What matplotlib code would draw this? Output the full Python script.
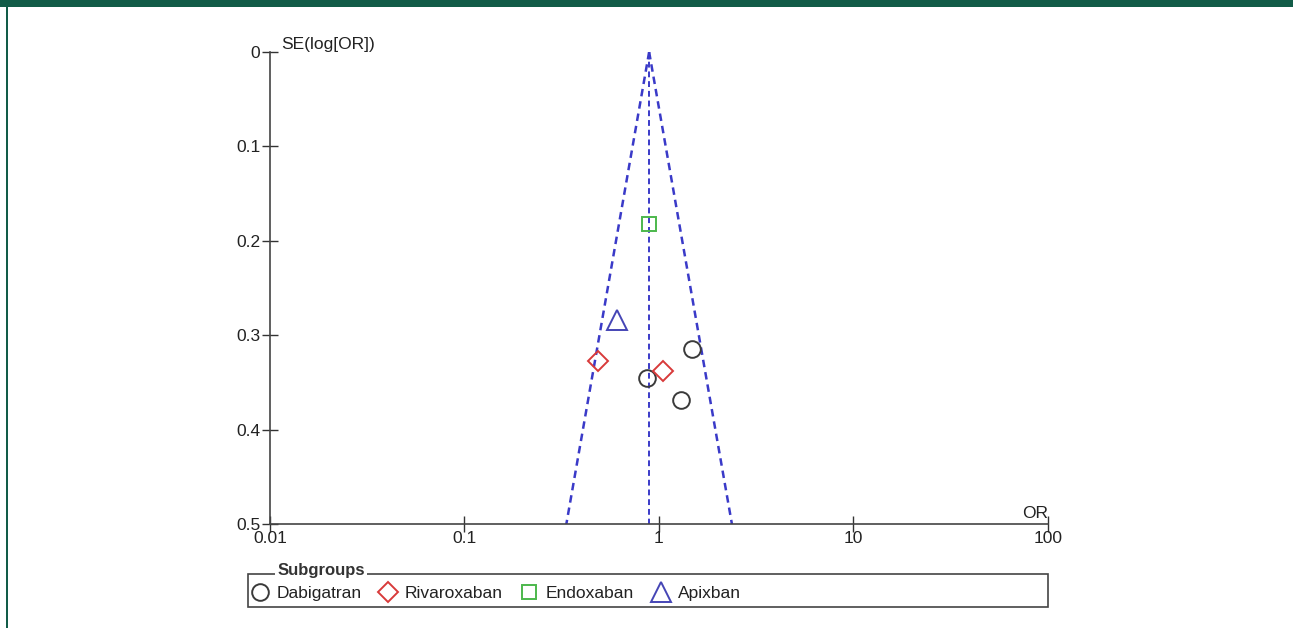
import numpy as np
import matplotlib.pyplot as plt
from matplotlib.patches import Rectangle
from matplotlib.lines import Line2D

plt.rcParams['font.family'] = ['Liberation Sans', 'DejaVu Sans']

# study estimates per subgroup: odds ratio and standard error of log(OR)
dabi_or = [0.87, 1.48, 1.30]
dabi_se = [0.345, 0.315, 0.369]
riva_or = [0.485, 1.05]
riva_se = [0.327, 0.338]
edox_or = [0.89]
edox_se = [0.182]
apix_or = [0.61]
apix_se = [0.284]

pooled_or = 0.89
se_max = 0.5

xticks = [0.01, 0.1, 1, 10, 100]
xticklabels = ['0.01', '0.1', '1', '10', '100']
yticks = [0, 0.1, 0.2, 0.3, 0.4, 0.5]
yticklabels = ['0', '0.1', '0.2', '0.3', '0.4', '0.5']

fs = 12.5

fig = plt.figure(figsize=(12.93, 6.28), dpi=100)
ax = fig.add_axes([0.2088, 0.1656, 0.6017, 0.7516])

# funnel limits
se_line = np.array([0, se_max])
funnel_col = '#3a3ac8'
dash = (0, (3, 2))
ax.plot(pooled_or * np.exp(-1.96 * se_line), se_line, color=funnel_col, lw=1.8, ls=dash)
ax.plot(pooled_or * np.exp(1.96 * se_line), se_line, color=funnel_col, lw=1.8, ls=dash)
ax.plot([pooled_or, pooled_or], se_line, color=funnel_col, lw=1.4, ls=dash)

mk = dict(ls='none', mfc='none', mew=1.4)
ax.plot(dabi_or, dabi_se, marker='o', ms=12, mec='#3a3a3a', **mk)
ax.plot(riva_or, riva_se, marker='D', ms=10.5, mec='#d83a3a', **mk)
ax.plot(edox_or, edox_se, marker='s', ms=10, mec='#4cb84c', **mk)
ax.plot(apix_or, apix_se, marker='^', ms=14, mec='#4545b5', **mk)

ax.set_xscale('log')
ax.set_xlim(0.01, 100)
ax.set_ylim(0.5, 0)
ax.set_xticks(xticks)
ax.set_xticklabels(xticklabels)
ax.set_yticks(yticks)
ax.set_yticklabels(yticklabels)
ax.xaxis.set_minor_locator(plt.NullLocator())
ax.tick_params(direction='inout', length=12, width=1, colors='#333333',
               labelsize=fs, pad=1, labelcolor='#222222')
ax.tick_params(axis='x', pad=-1)
for s in ['top', 'right']:
    ax.spines[s].set_visible(False)
for s in ['left', 'bottom']:
    ax.spines[s].set_color('#444444')
    ax.spines[s].set_linewidth(1.2)

ax.text(0.014, 1.0, 'SE(log[OR])', transform=ax.transAxes, fontsize=fs,
        ha='left', va='bottom', color='#222222')
ax.text(1.0, 0.006, 'OR', transform=ax.transAxes, fontsize=fs,
        ha='right', va='bottom', color='#222222')

# legend box
fig.patches.append(Rectangle((0.1918, 0.0334), 0.6187, 0.0525, transform=fig.transFigure,
                             fill=False, ec='#444444', lw=1.2))
fig.text(0.2145, 0.0915, 'Subgroups', fontsize=12, fontweight='bold', color='#333333',
         ha='left', va='center',
         bbox=dict(fc='white', ec='none', pad=1.5))
handles = [
    Line2D([], [], marker='o', ms=12, mec='#3a3a3a', **mk),
    Line2D([], [], marker='D', ms=10.5, mec='#d83a3a', **mk),
    Line2D([], [], marker='s', ms=10, mec='#4cb84c', **mk),
    Line2D([], [], marker='^', ms=14, mec='#4545b5', **mk),
]
fig.legend(handles, ['Dabigatran', 'Rivaroxaban', 'Endoxaban', 'Apixban'],
           loc='lower left', bbox_to_anchor=(0.1846, 0.021), ncol=4, frameon=False,
           fontsize=fs, handlelength=0.8, handletextpad=0.58, columnspacing=1.11,
           borderpad=0.3, labelcolor='#222222')

# journal frame
green = '#125c48'
fig.patches.append(Rectangle((0, 1 - 7 / 628), 1, 7 / 628, transform=fig.transFigure,
                             color=green, lw=0))
fig.patches.append(Rectangle((6 / 1293, 0), 2 / 1293, 1, transform=fig.transFigure,
                             color=green, lw=0))

fig.savefig('out.png', dpi=100)
